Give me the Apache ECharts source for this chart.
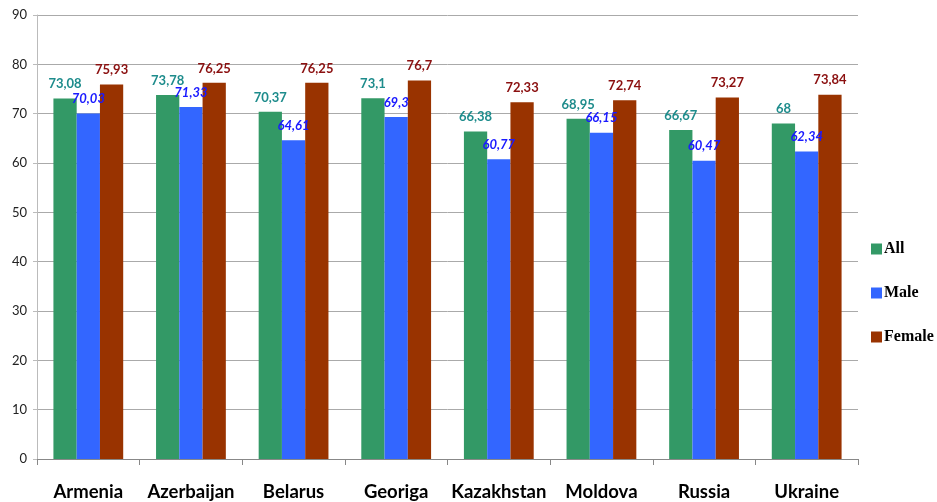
<!DOCTYPE html>
<html>
<head>
<meta charset="utf-8">
<script src="https://cdn.jsdelivr.net/npm/echarts@6/dist/echarts.min.js"></script>
<style>
html,body{margin:0;padding:0;background:#fff;}
#chart{width:937px;height:502px;}
</style>
</head>
<body>
<div id="chart"></div>
<script>
var countries = ['Armenia', 'Azerbaijan', 'Belarus', 'Georiga', 'Kazakhstan', 'Moldova', 'Russia', 'Ukraine'];
var allValues = [73.08, 73.78, 70.37, 73.1, 66.38, 68.95, 66.67, 68];
var maleValues = [70.03, 71.33, 64.61, 69.3, 60.77, 66.15, 60.47, 62.34];
var femaleValues = [75.93, 76.25, 76.25, 76.7, 72.33, 72.74, 73.27, 73.84];

var myChart = echarts.init(document.getElementById('chart'));

// excel style decimal comma
function commaLabel(p) {
	return String(p.value).replace('.', ',');
}

function makeSeries(name, data, color, labelColor, italic) {
	return {
		name: name,
		type: 'bar',
		data: data,
		barGap: '0%',
		barCategoryGap: '32%',
		itemStyle: { color: color },
		label: {
			show: true,
			position: 'top',
			distance: 8,
			formatter: commaLabel,
			color: labelColor,
			fontWeight: 'bold',
			fontStyle: italic ? 'italic' : 'normal',
			fontSize: 13,
			fontFamily: 'Lato'
		}
	};
}

var option = {
	animation: false,
	grid: { left: 37, right: 79, top: 15, bottom: 42 },
	legend: {
		orient: 'vertical',
		left: 866,
		top: 236,
		itemWidth: 11,
		itemHeight: 11,
		itemGap: 28,
		icon: 'rect',
		textStyle: { fontFamily: 'Liberation Serif', fontWeight: 'bold', fontSize: 16, color: '#000', padding: [0, 0, 0, -3] },
		data: ['All', 'Male', 'Female']
	},
	xAxis: {
		type: 'category',
		data: countries,
		axisLine: { lineStyle: { color: '#888', width: 1 } },
		axisTick: { show: true, length: 6, lineStyle: { color: '#888' } },
		axisLabel: {
			margin: 24,
			fontFamily: 'Lato',
			fontWeight: 'bold',
			fontSize: 18.5,
			color: '#000',
			interval: 0
		}
	},
	yAxis: {
		type: 'value',
		min: 0,
		max: 90,
		interval: 10,
		axisLine: { show: true, lineStyle: { color: '#bbb' } },
		axisTick: { show: true, length: 4, lineStyle: { color: '#bbb' } },
		splitLine: { lineStyle: { color: '#aaa', width: 1 } },
		axisLabel: { margin: 10, fontFamily: 'Lato', fontSize: 13, color: '#222' }
	},
	series: [
		makeSeries('All', allValues, '#339966', '#1e8c8c', false),
		makeSeries('Male', maleValues, '#3366ff', '#1a1aff', true),
		makeSeries('Female', femaleValues, '#993300', '#8b1010', false)
	]
};

myChart.setOption(option);
</script>
</body>
</html>
